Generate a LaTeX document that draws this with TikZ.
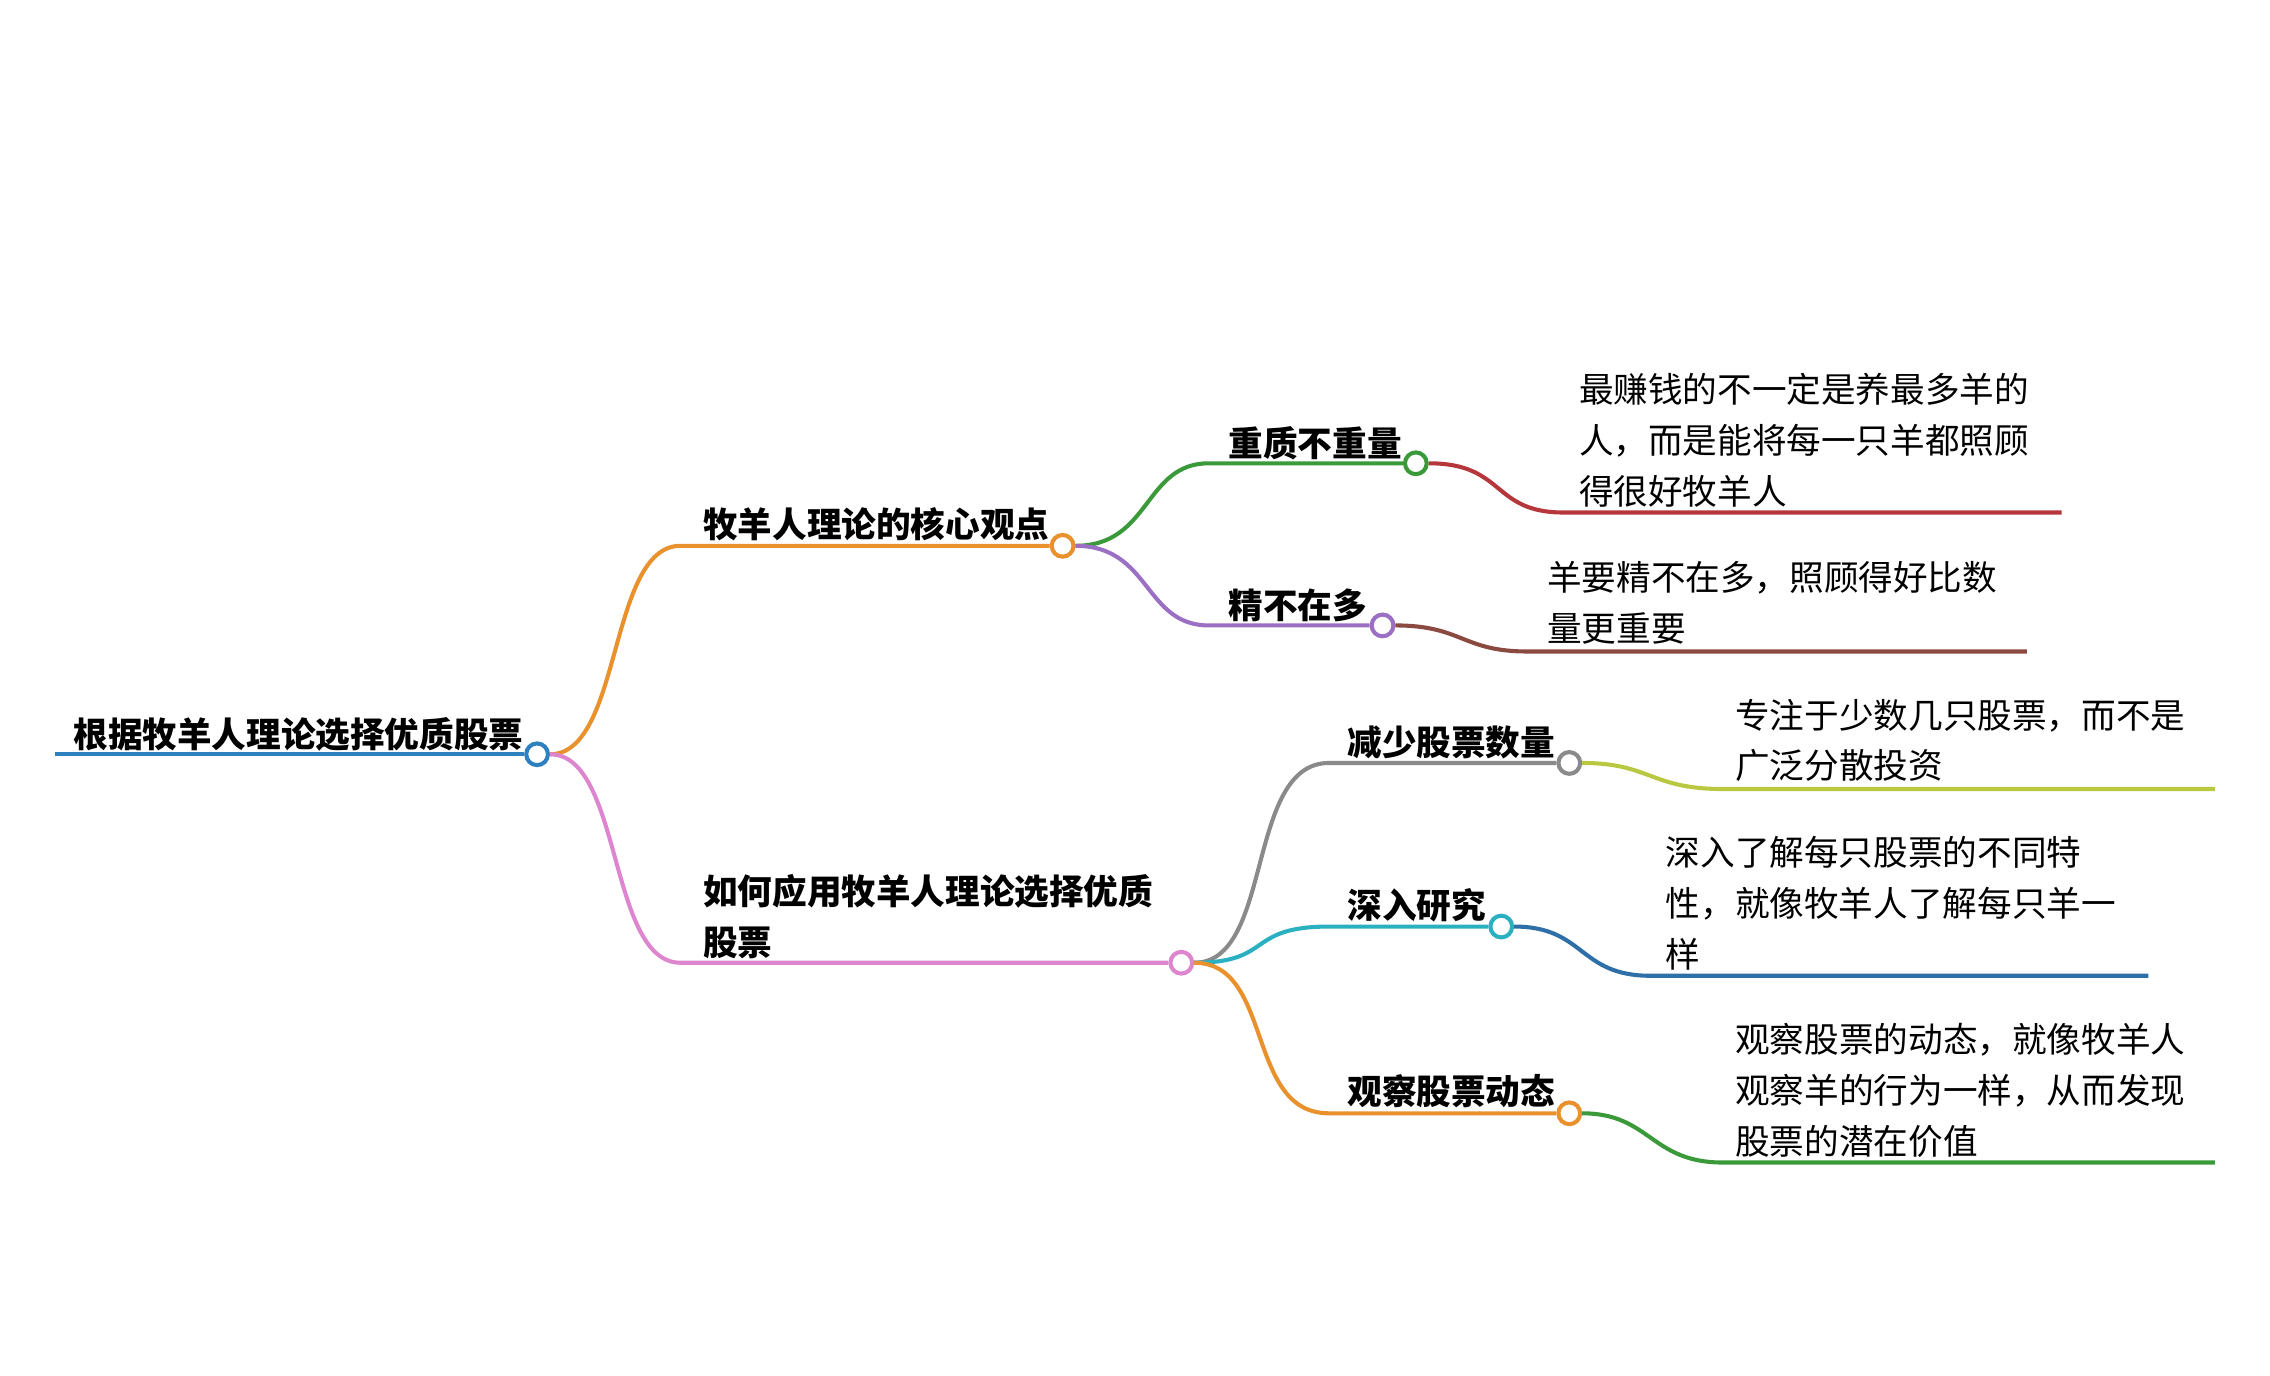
\documentclass[tikz,border=0pt]{standalone}
\usepackage{fontspec}
\setmainfont{Noto Sans CJK SC}
\usetikzlibrary{calc}
\definecolor{cRoot}{HTML}{2F80BF}
\definecolor{cOrange}{HTML}{E8912D}
\definecolor{cPink}{HTML}{DD86CF}
\definecolor{cGreen}{HTML}{3A9A3A}
\definecolor{cPurple}{HTML}{9B6FC4}
\definecolor{cRed}{HTML}{B5373C}
\definecolor{cBrown}{HTML}{8B4A40}
\definecolor{cGray}{HTML}{8A8A8A}
\definecolor{cLime}{HTML}{B8C840}
\definecolor{cCyan}{HTML}{2AB0C0}
\definecolor{cBlue}{HTML}{2F6FA8}
\tikzset{
  dot/.style={circle,draw=#1,fill=white,line width=0.8pt,inner sep=0pt,minimum size=0.15cm},
  link/.style={line width=0.8pt},
  topic/.style={anchor=west,inner sep=0pt,font=\fontsize{6.8}{10}\selectfont\bfseries},
  leaf/.style={anchor=north west,inner sep=0pt,align=left,font=\fontsize{6.8}{10}\selectfont}
}
\begin{document}
\begin{tikzpicture}[x=0.01cm,y=-0.01cm]
\useasboundingbox (0,0) rectangle (1568,950);
% root
\node[topic] (root) at (50,507) {根据牧羊人理论选择优质股票};
\node[dot=cRoot] (r) at (371,521) {};
\draw[link,cRoot] (38,521) -- (r.west);
% level 1
\node[dot=cOrange] (a) at (734,377) {};
\node[topic] (ta) at (485,362) {牧羊人理论的核心观点};
\coordinate (a0) at (470,377);
\draw[link,cOrange] (r.east) .. controls (430,521) and (420,377) .. (a0) -- (a.west);
\node[dot=cPink] (b) at (816,665) {};
\node[topic,anchor=north west,align=left] (tb) at (485,603) {如何应用牧羊人理论选择优质\\股票};
\coordinate (b0) at (470,665);
\draw[link,cPink] (r.east) .. controls (430,521) and (420,665) .. (b0) -- (b.west);
% level 2 under a
\node[dot=cGreen] (a1) at (978,320) {};
\node[topic] at (848,306) {重质不重量};
\draw[link,cGreen] (a.east) .. controls (795,377) and (790,320) .. (835,320) -- (a1.west);
\node[dot=cPurple] (a2) at (955,432) {};
\node[topic] at (848,418) {精不在多};
\draw[link,cPurple] (a.east) .. controls (795,377) and (790,432) .. (835,432) -- (a2.west);
% level 2 under b
\node[dot=cGray] (b1) at (1084,527) {};
\node[topic] at (930,513) {减少股票数量};
\draw[link,cGray] (b.east) .. controls (880,665) and (860,527) .. (918,527) -- (b1.west);
\node[dot=cCyan] (b2) at (1037,640) {};
\node[topic] at (930,625) {深入研究};
\draw[link,cCyan] (b.east) .. controls (880,665) and (860,640) .. (918,640) -- (b2.west);
\node[dot=cOrange] (b3) at (1084,769) {};
\node[topic] at (930,754) {观察股票动态};
\draw[link,cOrange] (b.east) .. controls (880,665) and (860,769) .. (918,769) -- (b3.west);
% leaves
\node[leaf] at (1090,257) {最赚钱的不一定是养最多羊的\\人，而是能将每一只羊都照顾\\得很好牧羊人};
\draw[link,cRed] (a1.east) .. controls (1040,320) and (1030,354) .. (1080,354) -- (1424,354);
\node[leaf] at (1068,387) {羊要精不在多，照顾得好比数\\量更重要};
\draw[link,cBrown] (a2.east) .. controls (1010,432) and (1010,450) .. (1055,450) -- (1400,450);
\node[leaf] at (1198,482) {专注于少数几只股票，而不是\\广泛分散投资};
\draw[link,cLime] (b1.east) .. controls (1140,527) and (1140,545) .. (1190,545) -- (1530,545);
\node[leaf] at (1150,577) {深入了解每只股票的不同特\\性，就像牧羊人了解每只羊一\\样};
\draw[link,cBlue] (b2.east) .. controls (1095,640) and (1090,674) .. (1140,674) -- (1484,674);
\node[leaf] at (1198,706) {观察股票的动态，就像牧羊人\\观察羊的行为一样，从而发现\\股票的潜在价值};
\draw[link,cGreen] (b3.east) .. controls (1140,769) and (1140,803) .. (1190,803) -- (1530,803);
\end{tikzpicture}
\end{document}
